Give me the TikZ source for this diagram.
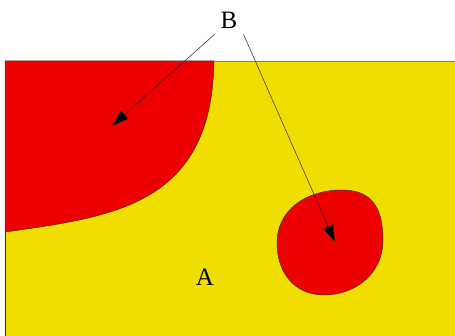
\documentclass[tikz,border=0pt]{standalone}
\usepackage{fontspec}
\setmainfont{Liberation Serif}
\usetikzlibrary{arrows.meta}
\definecolor{redr}{RGB}{238,0,0}
\definecolor{yelr}{RGB}{240,222,0}
\tikzset{
  region/.style={fill=redr, draw=black!80, line width=0.5pt},
  pointer/.style={draw=black!85, line width=0.5pt, -{Triangle[length=17pt,width=11pt,fill=black]}},
  lbl/.style={font=\fontsize{25}{25}\selectfont, inner sep=6pt}
}
\begin{document}
\begin{tikzpicture}[x=1pt,y=-1pt]
\useasboundingbox (0,0) rectangle (455,336);
\fill[white] (0,0) rectangle (455,336);
% yellow domain
\fill[yelr] (5,61) rectangle (455,336);
\draw[black!50, line width=0.8pt] (5,61) -- (455,61);
\draw[black!80, line width=0.8pt] (5,61) -- (5,336);
% left red region
\path[region] (5,61) -- (214,61)
  .. controls (213,118) and (198,160) .. (160,188)
  .. controls (125,213) and (80,222) .. (5,232) -- cycle;
% red blob
\path[region] (342,190)
  .. controls (372,190) and (383,208) .. (383,240)
  .. controls (383,274) and (355,295) .. (324,295)
  .. controls (294,295) and (277,272) .. (277,243)
  .. controls (277,210) and (306,190) .. (342,190) -- cycle;
\node[lbl] (B) at (229,20) {B};
\node[lbl] (A) at (205,277) {A};
\coordinate (t1) at (112,126);
\coordinate (t2) at (335,242);
\draw[pointer] (B.south west) -- (t1);
\draw[pointer] (B.south east) -- (t2);
\end{tikzpicture}
\end{document}
